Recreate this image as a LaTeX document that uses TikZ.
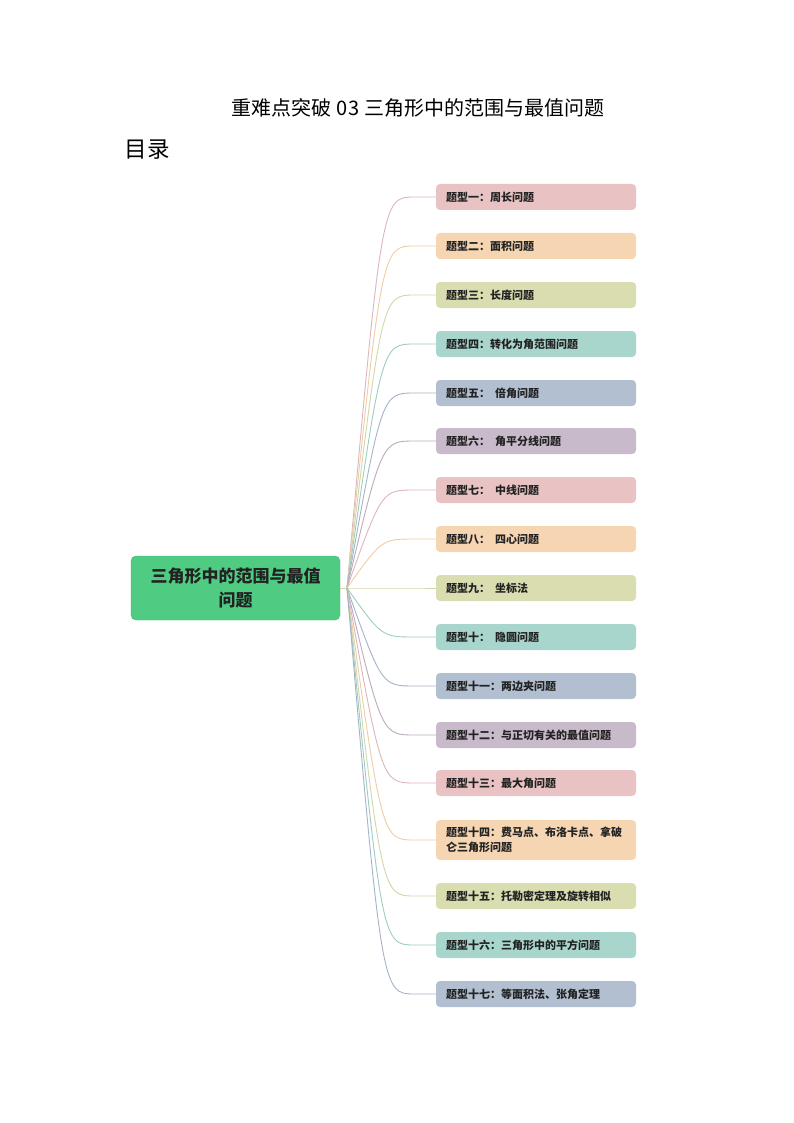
\documentclass[tikz,border=0pt]{standalone}
\usepackage{fontspec}
\setmainfont{Noto Sans CJK SC}
\definecolor{fA}{HTML}{E9C3C3}
\definecolor{fB}{HTML}{F5D5B2}
\definecolor{fC}{HTML}{DADDB0}
\definecolor{fD}{HTML}{A9D6CC}
\definecolor{fE}{HTML}{B1BFD1}
\definecolor{fF}{HTML}{C9BACB}
\definecolor{lA}{HTML}{DDB5BA}
\definecolor{lB}{HTML}{EECDA4}
\definecolor{lC}{HTML}{D3D6A8}
\definecolor{lD}{HTML}{9DCDC2}
\definecolor{lE}{HTML}{A5B3C7}
\definecolor{lF}{HTML}{BAAABD}
\definecolor{rootg}{HTML}{4FCB82}
\definecolor{txt}{HTML}{222222}
\begin{document}
\begin{tikzpicture}[x=1pt,y=-1pt,
  topic/.style={rounded corners=4pt, minimum width=200pt, minimum height=26pt,
    text width=180pt, inner xsep=10pt, inner ysep=3pt, align=left,
    font=\fontsize{11}{15}\selectfont\bfseries, text=txt},
  rootbox/.style={rounded corners=5pt, fill=rootg, draw=rootg!90!black, line width=0.4pt,
    minimum width=209pt, minimum height=64pt, text width=195pt, align=center,
    font=\fontsize{17}{24}\selectfont\bfseries, text=txt},
  conn/.style={line width=0.9pt}]
\useasboundingbox (0,0) rectangle (794,1123);
\node[font=\fontsize{20}{24}\selectfont] (title) at (418,108) {重难点突破\hspace{5pt}03\hspace{5pt}三角形中的范围与最值问题};
\node[font=\fontsize{22.5}{26}\selectfont, anchor=west] (mulu) at (121,150) {目录};
\node[rootbox] (root) at (235.5,588) {三角形中的范围与最值\\问题};
\coordinate (fork) at (347,588);
\node[topic, fill=fA] (t1) at (536,197) {题型一：周长问题};
\node[topic, fill=fB] (t2) at (536,246) {题型二：面积问题};
\node[topic, fill=fC] (t3) at (536,295) {题型三：长度问题};
\node[topic, fill=fD] (t4) at (536,344) {题型四：转化为角范围问题};
\node[topic, fill=fE] (t5) at (536,393) {题型五：\hspace{5pt}倍角问题};
\node[topic, fill=fF] (t6) at (536,441) {题型六：\hspace{5pt}角平分线问题};
\node[topic, fill=fA] (t7) at (536,490) {题型七：\hspace{5pt}中线问题};
\node[topic, fill=fB] (t8) at (536,539) {题型八：\hspace{5pt}四心问题};
\node[topic, fill=fC] (t9) at (536,588) {题型九：\hspace{5pt}坐标法};
\node[topic, fill=fD] (t10) at (536,637) {题型十：\hspace{5pt}隐圆问题};
\node[topic, fill=fE] (t11) at (536,686) {题型十一：两边夹问题};
\node[topic, fill=fF] (t12) at (536,735) {题型十二：与正切有关的最值问题};
\node[topic, fill=fA] (t13) at (536,783) {题型十三：最大角问题};
\node[topic, fill=fB, minimum height=40pt] (t14) at (536,840) {题型十四：费马点、布洛卡点、拿破\\仑三角形问题};
\node[topic, fill=fC] (t15) at (536,896) {题型十五：托勒密定理及旋转相似};
\node[topic, fill=fD] (t16) at (536,945) {题型十六：三角形中的平方问题};
\node[topic, fill=fE] (t17) at (536,994) {题型十七：等面积法、张角定理};
\draw[conn, lC] (root.east) -- (fork);
\foreach \n/\c in {t1/lA,t2/lB,t3/lC,t4/lD,t5/lE,t6/lF,t7/lA,t8/lB,t9/lC,t10/lD,t11/lE,t12/lF,t13/lA,t14/lB,t15/lC,t16/lD,t17/lE}{
  \path (\n.west) ++(-21,0) coordinate (\n e);
  \path (\n.west) ++(-54,0) coordinate (\n c);
  \draw[conn, \c] (fork) .. controls (\n c) .. (\n e) -- (\n.west);
}
\end{tikzpicture}
\end{document}
